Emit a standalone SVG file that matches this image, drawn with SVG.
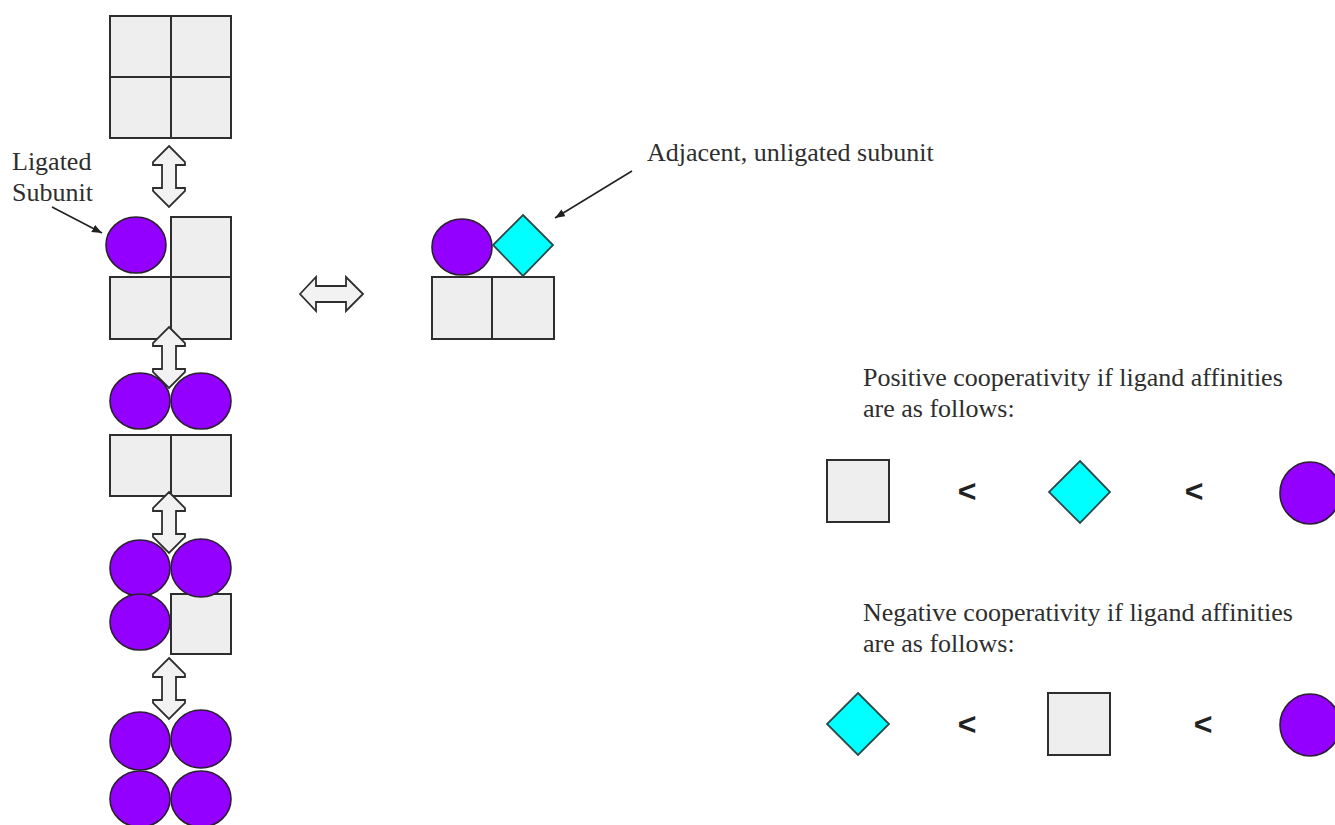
<svg xmlns="http://www.w3.org/2000/svg" width="1335" height="825" viewBox="0 0 1335 825">
<style>
.sq{fill:#eeeeee;stroke:#2e2e2e;stroke-width:2}
.lig{fill:#9400ff;stroke:#2a2030;stroke-width:1.6}
.dia{fill:#00ffff;stroke:#2c4a4a;stroke-width:1.8}
.dbl{fill:#f2f2f2;stroke:#2e2e2e;stroke-width:1.8;stroke-linejoin:miter}
.ptr{fill:none;stroke:#222;stroke-width:1.6}
.lbl{font-family:"Liberation Serif","Times New Roman",serif;font-size:26px;fill:#2e2e2e}
.lt{font-family:"Liberation Sans",Arial,sans-serif;font-size:32px;font-weight:bold;fill:#222;text-anchor:middle}
</style>
<defs>
<marker id="ah" viewBox="0 0 10 8" refX="10" refY="4" markerWidth="10" markerHeight="8" markerUnits="userSpaceOnUse" orient="auto">
<path d="M0,0 L10,4 L0,8 Z" fill="#222"/>
</marker>
<path id="varrow" class="dbl" d="M0,0 L16,16 L16,19 L7,19 L7,42 L16,42 L16,45 L0,61 L-16,45 L-16,42 L-7,42 L-7,19 L-16,19 L-16,16 Z"/>
</defs>
<rect width="1335" height="825" fill="#ffffff"/>

<g id="state0">
<rect class="sq" x="110" y="16" width="61" height="61"/>
<rect class="sq" x="171" y="16" width="60" height="61"/>
<rect class="sq" x="110" y="77" width="61" height="61"/>
<rect class="sq" x="171" y="77" width="60" height="61"/>
</g>

<g id="state1">
<rect class="sq" x="171" y="217" width="60" height="60"/>
<rect class="sq" x="110" y="277" width="61" height="62"/>
<rect class="sq" x="171" y="277" width="60" height="62"/>
<ellipse class="lig" cx="136" cy="245" rx="30" ry="28"/>
<text class="lbl" x="12" y="170">Ligated</text>
<text class="lbl" x="12" y="201">Subunit</text>
</g>

<g id="state1-alt">
<rect class="sq" x="432" y="277" width="60" height="62"/>
<rect class="sq" x="492" y="277" width="62" height="62"/>
<ellipse class="lig" cx="462" cy="247" rx="30" ry="28"/>
<polygon class="dia" points="523,215 553,245 523,276 493,245"/>
<text class="lbl" x="647" y="161">Adjacent, unligated subunit</text>
</g>

<g id="state2-subunits">
<rect class="sq" x="110" y="435" width="61" height="61"/>
<rect class="sq" x="171" y="435" width="60" height="61"/>
</g>

<g id="state3-subunits">
<rect class="sq" x="171" y="594" width="60" height="60"/>
</g>

<g id="connectors">
<use href="#varrow" x="169" y="146"/>
<use href="#varrow" x="169" y="327"/>
<use href="#varrow" x="169" y="492"/>
<use href="#varrow" x="169" y="658"/>
<path class="dbl" d="M300,294 L316,277 L316,286 L346,286 L346,277 L363,294 L346,311 L346,302 L316,302 L316,311 Z"/>
<line class="ptr" x1="52" y1="207" x2="102" y2="233" marker-end="url(#ah)"/>
<line class="ptr" x1="632" y1="171" x2="555" y2="218" marker-end="url(#ah)"/>
</g>

<g id="state2-ligands">
<ellipse class="lig" cx="140" cy="401" rx="30" ry="28"/>
<ellipse class="lig" cx="201" cy="401" rx="30" ry="28"/>
</g>

<g id="state3-ligands">
<ellipse class="lig" cx="140" cy="568" rx="30" ry="28"/>
<ellipse class="lig" cx="201" cy="568" rx="30" ry="29"/>
<ellipse class="lig" cx="140" cy="622" rx="30" ry="28"/>
</g>

<g id="state4">
<ellipse class="lig" cx="140" cy="741" rx="30" ry="29"/>
<ellipse class="lig" cx="201" cy="739" rx="30" ry="29"/>
<ellipse class="lig" cx="140" cy="799" rx="30" ry="28"/>
<ellipse class="lig" cx="201" cy="799" rx="30" ry="28"/>
</g>

<g id="positive">
<text class="lbl" x="863" y="386">Positive cooperativity if ligand affinities</text>
<text class="lbl" x="863" y="417">are as follows:</text>
<rect class="sq" x="827" y="460" width="62" height="62"/>
<text class="lt" x="967" y="502">&lt;</text>
<polygon class="dia" points="1080,461 1110,492 1080,523 1049,492"/>
<text class="lt" x="1194" y="502">&lt;</text>
<ellipse class="lig" cx="1310" cy="493" rx="30" ry="31"/>
</g>

<g id="negative">
<text class="lbl" x="863" y="621">Negative cooperativity if ligand affinities</text>
<text class="lbl" x="863" y="652">are as follows:</text>
<polygon class="dia" points="858,693 889,724 858,755 827,724"/>
<text class="lt" x="967" y="735">&lt;</text>
<rect class="sq" x="1048" y="693" width="62" height="62"/>
<text class="lt" x="1203" y="735">&lt;</text>
<ellipse class="lig" cx="1310" cy="725" rx="30" ry="31"/>
</g>
</svg>
